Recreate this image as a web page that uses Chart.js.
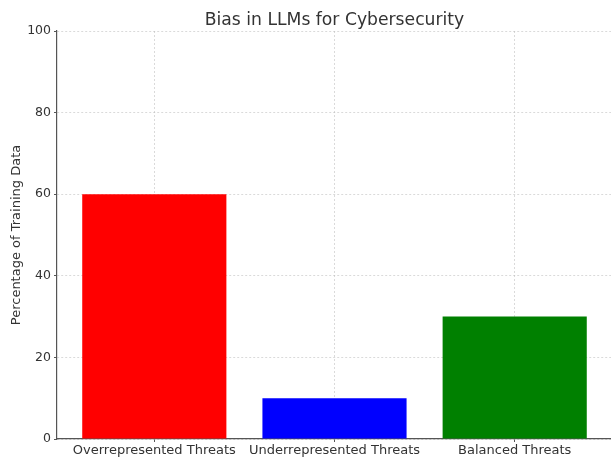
<!DOCTYPE html>
<html>
<head>
<meta charset="utf-8">
<script src="https://cdn.jsdelivr.net/npm/chart.js@4/dist/chart.umd.min.js"></script>
<style>
  html, body { margin: 0; padding: 0; background: #fff; overflow: hidden; }
  #wrap { position: relative; width: 640px; height: 457px; }
</style>
</head>
<body>
<div id="wrap"><canvas id="c"></canvas></div>
<script>
// Share of training data by threat category
const categories = ['Overrepresented Threats', 'Underrepresented Threats', 'Balanced Threats'];
const percentages = [60, 10, 30];
const barColors = ['#ff0000', '#0000ff', '#008000'];
const yTicks = [0, 20, 40, 60, 80, 100];
const chartTitle = 'Bias in LLMs for Cybersecurity';
const yAxisTitle = 'Percentage of Training Data';

const FONT = "'DejaVu Sans', sans-serif";
const TEXT = '#333333';
const GRID = 'rgba(190,190,190,0.7)';

// Title centred over the plot area
const titlePlugin = {
  id: 'plotTitle',
  afterDraw(chart) {
    const ctx = chart.ctx;
    const area = chart.chartArea;
    ctx.save();
    ctx.font = '17.2px ' + FONT;
    ctx.fillStyle = TEXT;
    ctx.textAlign = 'center';
    ctx.textBaseline = 'alphabetic';
    ctx.fillText(chartTitle, (area.left + area.right) / 2, 25);
    ctx.restore();
  }
};

new Chart(document.getElementById('c'), {
  type: 'bar',
  data: {
    datasets: [{
      data: categories.map((c, i) => ({ x: i, y: percentages[i] })),
      backgroundColor: barColors,
      borderWidth: 0,
      categoryPercentage: 1.0,
      barPercentage: 0.8
    }]
  },
  options: {
    responsive: true,
    maintainAspectRatio: false,
    animation: false,
    layout: { padding: { top: 31, right: 28, left: 0, bottom: 0 } },
    plugins: { legend: { display: false }, tooltip: { enabled: false }, title: { display: false } },
    scales: {
      x: {
        type: 'linear',
        min: -0.54,
        max: 2.54,
        offset: false,
        z: 1,
        afterBuildTicks(scale) { scale.ticks = categories.map((c, i) => ({ value: i })); },
        afterFit(scale) { scale.height = 18; },
        ticks: {
          autoSkip: false,
          maxRotation: 0,
          padding: 1,
          color: TEXT,
          font: { family: FONT, size: 13 },
          callback: (v) => categories[v]
        },
        grid: {
          offset: false,
          color: GRID,
          lineWidth: 0.8,
          drawTicks: true,
          tickLength: 3,
          tickColor: '#555555',
          tickWidth: 1
        },
        border: { display: true, color: '#555555', width: 1.2, dash: [2, 2] }
      },
      y: {
        min: 0,
        max: 100,
        z: 1,
        afterBuildTicks(scale) { scale.ticks = yTicks.map(v => ({ value: v })); },
        afterFit(scale) { scale.width = 57; },
        ticks: {
          padding: 3,
          color: TEXT,
          font: { family: FONT, size: 12.5 }
        },
        title: {
          display: true,
          text: yAxisTitle,
          color: TEXT,
          font: { family: FONT, size: 13 },
          padding: { top: 9, bottom: 0 }
        },
        grid: {
          color: GRID,
          lineWidth: 0.8,
          drawTicks: true,
          tickLength: 3,
          tickColor: '#555555',
          tickWidth: 1
        },
        border: { display: true, color: '#555555', width: 1.2, dash: [2, 2] }
      }
    }
  },
  plugins: [titlePlugin]
});
</script>
</body>
</html>
